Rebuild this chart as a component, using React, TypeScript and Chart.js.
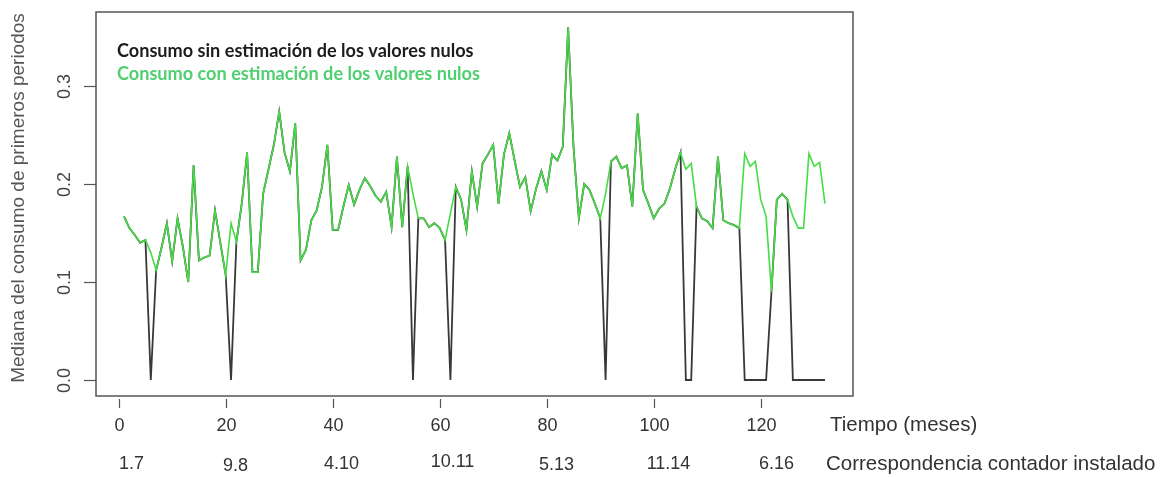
import { useEffect, useRef } from 'react';
import { Chart, registerables } from 'chart.js';

Chart.register(...registerables);

// Monthly median consumption, months 1..132
const MESES: number[] = Array.from({ length: 132 }, (_, i) => i + 1);

// Series with null readings replaced by an estimate
const CONSUMO_CON_ESTIMACION: number[] = [
  0.167, 0.155, 0.148, 0.140, 0.143, 0.130, 0.112, 0.135, 0.160, 0.121,
  0.165, 0.136, 0.100, 0.219, 0.122, 0.125, 0.127, 0.173, 0.140, 0.107,
  0.160, 0.141, 0.180, 0.232, 0.110, 0.110, 0.190, 0.215, 0.240, 0.274,
  0.232, 0.213, 0.262, 0.122, 0.133, 0.163, 0.173, 0.197, 0.240, 0.153,
  0.153, 0.177, 0.199, 0.179, 0.194, 0.206, 0.198, 0.188, 0.182, 0.192,
  0.156, 0.228, 0.156, 0.218, 0.190, 0.165, 0.165, 0.156, 0.160, 0.155,
  0.143, 0.170, 0.197, 0.184, 0.153, 0.213, 0.177, 0.221, 0.230, 0.240,
  0.180, 0.230, 0.252, 0.224, 0.197, 0.207, 0.172, 0.195, 0.213, 0.194,
  0.230, 0.224, 0.238, 0.360, 0.238, 0.165, 0.200, 0.194, 0.180, 0.165,
  0.190, 0.223, 0.228, 0.216, 0.219, 0.177, 0.272, 0.194, 0.180, 0.165,
  0.175, 0.180, 0.195, 0.215, 0.232, 0.215, 0.221, 0.177, 0.165, 0.162,
  0.155, 0.228, 0.163, 0.160, 0.158, 0.155, 0.231, 0.218, 0.223, 0.184,
  0.167, 0.090, 0.184, 0.190, 0.184, 0.167, 0.155, 0.155, 0.231, 0.218,
  0.222, 0.180,
];

// Raw series: null readings stay at zero
const CONSUMO_SIN_ESTIMACION: number[] = [
  0.167, 0.155, 0.148, 0.140, 0.143, 0.000, 0.112, 0.135, 0.160, 0.121,
  0.165, 0.136, 0.100, 0.219, 0.122, 0.125, 0.127, 0.173, 0.140, 0.107,
  0.000, 0.141, 0.180, 0.232, 0.110, 0.110, 0.190, 0.215, 0.240, 0.274,
  0.232, 0.213, 0.262, 0.122, 0.133, 0.163, 0.173, 0.197, 0.240, 0.153,
  0.153, 0.177, 0.199, 0.179, 0.194, 0.206, 0.198, 0.188, 0.182, 0.192,
  0.156, 0.228, 0.156, 0.218, 0.000, 0.165, 0.165, 0.156, 0.160, 0.155,
  0.143, 0.000, 0.197, 0.184, 0.153, 0.213, 0.177, 0.221, 0.230, 0.240,
  0.180, 0.230, 0.252, 0.224, 0.197, 0.207, 0.172, 0.195, 0.213, 0.194,
  0.230, 0.224, 0.238, 0.360, 0.238, 0.165, 0.200, 0.194, 0.180, 0.165,
  0.000, 0.223, 0.228, 0.216, 0.219, 0.177, 0.272, 0.194, 0.180, 0.165,
  0.175, 0.180, 0.195, 0.215, 0.232, 0.000, 0.000, 0.177, 0.165, 0.162,
  0.155, 0.228, 0.163, 0.160, 0.158, 0.155, 0.000, 0.000, 0.000, 0.000,
  0.000, 0.090, 0.184, 0.190, 0.184, 0.000, 0.000, 0.000, 0.000, 0.000,
  0.000, 0.000,
];

const X_TICKS: number[] = [0, 20, 40, 60, 80, 100, 120];
const Y_TICKS: number[] = [0, 0.1, 0.2, 0.3];
// Installed-meter correspondence shown under each time tick
const CONTADOR_LABELS: string[] = ['1.7', '9.8', '4.10', '10.11', '5.13', '11.14', '6.16'];

const TITULO_X = 'Tiempo (meses)';
const TITULO_CONTADOR = 'Correspondencia contador instalado';
const TITULO_Y = 'Mediana del consumo de primeros periodos';
const LEYENDA_SIN = 'Consumo sin estimación de los valores nulos';
const LEYENDA_CON = 'Consumo con estimación de los valores nulos';

// Layout / style (pixels)
const W = 1164;
const H = 477;
const CONTADOR_DX = [12, 9, 8, 12, 9, 14, 15];
const CONTADOR_DY = [0, 2, 0, -2, 1, 0, 0];
const AXIS_FONT = '"Liberation Sans", Arial, sans-serif';
const GREEN = '#45dc45';
const BLACK = '#383838';

const rAxesPlugin = {
  id: 'rAxes',
  afterDatasetsDraw(chart: any) {
    const { ctx, chartArea: a, scales } = chart;
    const xs = scales.x;
    const ys = scales.y;
    ctx.save();

    // plot frame
    ctx.strokeStyle = '#555';
    ctx.lineWidth = 1.5;
    ctx.strokeRect(a.left, a.top, a.right - a.left, a.bottom - a.top);

    // y axis ticks and rotated labels
    ctx.strokeStyle = '#555';
    ctx.lineWidth = 1.2;
    ctx.fillStyle = '#444';
    ctx.font = `18px ${AXIS_FONT}`;
    ctx.textAlign = 'center';
    ctx.textBaseline = 'middle';
    for (const v of Y_TICKS) {
      const py = Math.round(ys.getPixelForValue(v)) + 0.5;
      ctx.beginPath();
      ctx.moveTo(a.left - 12, py);
      ctx.lineTo(a.left, py);
      ctx.stroke();
      ctx.save();
      ctx.translate(a.left - 31, py);
      ctx.rotate(-Math.PI / 2);
      ctx.fillText(v.toFixed(1), 0, 0);
      ctx.restore();
    }

    // y axis title
    ctx.save();
    ctx.fillStyle = '#555';
    ctx.font = `19px ${AXIS_FONT}`;
    ctx.translate(19, 198);
    ctx.rotate(-Math.PI / 2);
    ctx.fillText(TITULO_Y, 0, 0);
    ctx.restore();

    // x axis ticks and labels
    ctx.fillStyle = '#333';
    ctx.font = `18px ${AXIS_FONT}`;
    X_TICKS.forEach((v, i) => {
      const px = Math.round(xs.getPixelForValue(v)) + 0.5;
      ctx.beginPath();
      ctx.moveTo(px, a.bottom + 3);
      ctx.lineTo(px, a.bottom + 12);
      ctx.stroke();
      ctx.textAlign = 'center';
      ctx.fillText(String(v), px, 426);
      ctx.fillText(CONTADOR_LABELS[i], px + CONTADOR_DX[i], 464 + CONTADOR_DY[i]);
    });

    ctx.textAlign = 'left';
    ctx.font = `20.5px ${AXIS_FONT}`;
    ctx.fillText(TITULO_X, 830, 425);
    ctx.fillText(TITULO_CONTADOR, 826, 464);

    // legend text inside the plot
    const base = 16;
    ctx.font = `bold ${base}px Lato, "Open Sans", sans-serif`;
    const m = ctx.measureText(LEYENDA_SIN).width;
    const size = (base * 357) / m;
    ctx.font = `bold ${size.toFixed(2)}px Lato, "Open Sans", sans-serif`;
    ctx.textBaseline = 'alphabetic';
    ctx.fillStyle = '#1c1c1c';
    ctx.fillText(LEYENDA_SIN, 117, 57);
    ctx.fillStyle = '#4fcf6f';
    ctx.fillText(LEYENDA_CON, 117, 80);

    ctx.restore();
  },
};

export default function App() {
  const canvasRef = useRef<HTMLCanvasElement | null>(null);

  useEffect(() => {
    const canvas = canvasRef.current;
    if (!canvas) return;
    const toPoints = (vals: number[]) => MESES.map((m, i) => ({ x: m, y: vals[i] }));

    const chart = new Chart(canvas, {
      type: 'line',
      data: {
        datasets: [
          {
            label: LEYENDA_CON,
            data: toPoints(CONSUMO_CON_ESTIMACION),
            borderColor: GREEN,
            borderWidth: 1.6,
            pointRadius: 0,
            tension: 0,
            fill: false,
          },
          {
            label: LEYENDA_SIN,
            data: toPoints(CONSUMO_SIN_ESTIMACION),
            borderColor: BLACK,
            borderWidth: 1.8,
            pointRadius: 0,
            tension: 0,
            fill: false,
          },
        ],
      },
      options: {
        responsive: false,
        animation: false,
        devicePixelRatio: 1,
        layout: { padding: { left: 96, top: 12, right: W - 853, bottom: H - 396 } },
        plugins: {
          legend: { display: false },
          tooltip: { enabled: false },
        },
        scales: {
          x: { type: 'linear', min: -4.24, max: 137.24, display: false },
          y: { type: 'linear', min: -0.0163, max: 0.3755, display: false },
        },
      },
      plugins: [rAxesPlugin],
    });
    return () => chart.destroy();
  }, []);

  return (
    <div style={{ position: 'fixed', left: 0, top: 0, width: W, height: H, background: '#fff' }}>
      <canvas ref={canvasRef} width={W} height={H} style={{ display: 'block' }} />
    </div>
  );
}
